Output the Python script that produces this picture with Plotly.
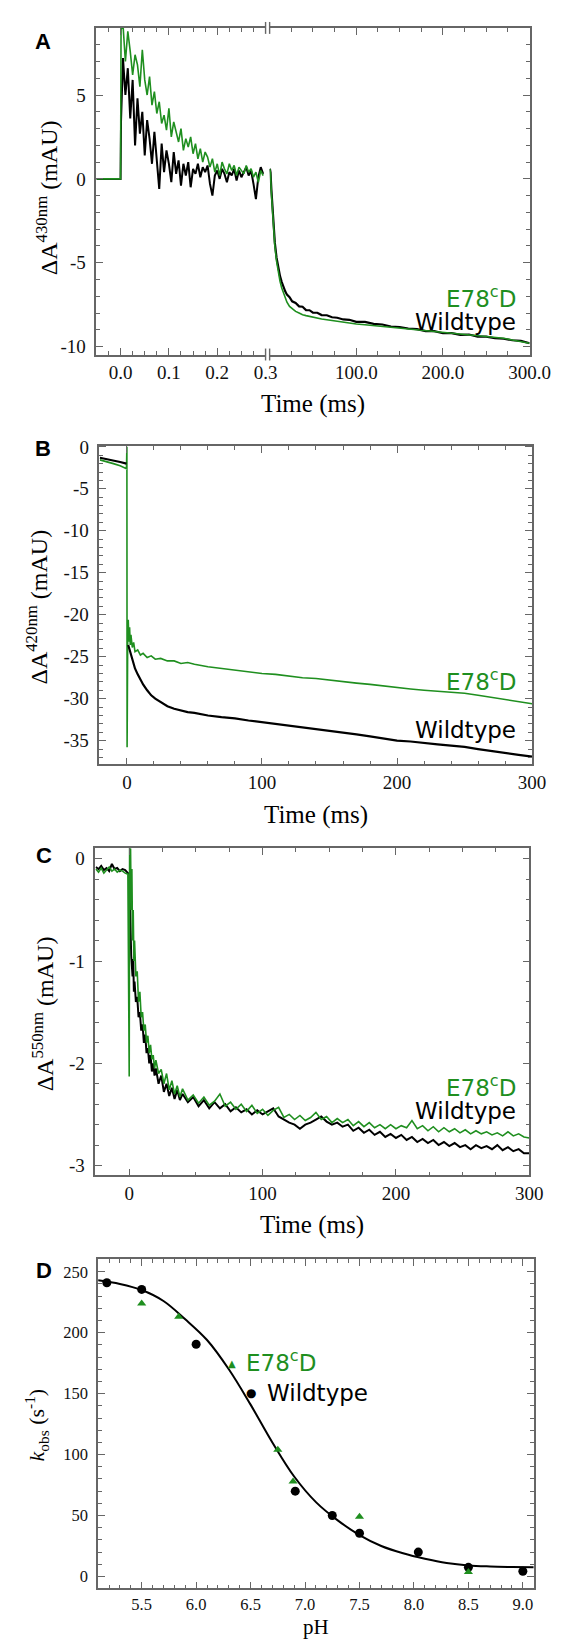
import plotly.graph_objects as go

W, H = 566, 1640
GREEN = "#1f8f1f"
BLACK = "#000000"
FRAME = "#666666"

# ---------------- Panel A (broken time axis) ----------------
A_t_fast = [-0.05, 0.0, 0.001, 0.005, 0.01, 0.015, 0.02, 0.025, 0.03, 0.035, 0.04, 0.045, 0.05,
            0.055, 0.06, 0.065, 0.07, 0.075, 0.08, 0.085, 0.09, 0.095, 0.1,
            0.105, 0.11, 0.115, 0.12, 0.125, 0.13, 0.135, 0.14, 0.145, 0.15,
            0.155, 0.16, 0.165, 0.17, 0.175, 0.18, 0.185, 0.19, 0.195, 0.2,
            0.205, 0.21, 0.215, 0.22, 0.225, 0.23, 0.235, 0.24, 0.245, 0.25,
            0.255, 0.26, 0.265, 0.27, 0.275, 0.28, 0.285, 0.29, 0.295]
A_e78_fast = [0, 0, 8.9, 9.2, 7.0, 8.8, 7.6, 6.2, 7.4, 6.8, 5.5, 7.7, 5.9,
              5.0, 6.1, 4.4, 5.2, 3.9, 4.6, 3.3, 3.8, 2.9, 4.2,
              2.5, 3.4, 2.7, 2.2, 3.0, 1.7, 2.4, 1.9, 2.5, 1.5,
              2.1, 1.2, 1.8, 1.0, 1.6, 1.3, 0.7, 1.2, 0.4, 0.9,
              0.2, 1.0, 0.6, 0.3, 0.9, 0.5, 0.8, 0.2, 0.7, 0.5,
              0.3, 0.8, 0.4, 0.6, 0.1, 0.4, -0.2, 0.5, 0.2]
A_wt_fast = [0, 0, 3.5, 7.2, 5.0, 6.6, 3.6, 5.9, 2.0, 4.8, 2.7, 4.0, 1.4,
             3.5, 2.4, 0.9, 2.8, 1.1, -0.6, 2.1, 0.4, 1.7, 0.9,
             -0.2, 1.6, 0.3, 1.1, -0.4, 0.9, 0.2, 1.0, -0.5, 0.6,
             0.3, 0.9, 0.1, 0.7, 0.4, 0.8, -0.3, -1.0, 0.2, 0.5,
             0.0, 0.6, 0.3, -0.2, 0.4, 0.2, 0.6, -0.1, 0.5, 0.1,
             0.4, 0.7, 0.2, 0.5, -0.3, -1.2, 0.1, 0.7, 0.3]
A_t_slow = [0.3, 1, 2, 3, 4, 5, 6, 8, 10, 12, 14, 16, 18, 20, 23, 26, 30, 34, 38, 42, 46, 50,
            55, 60, 66, 72, 78, 85, 92, 100, 110, 120, 130, 140, 150, 160, 170, 180, 190, 200,
            210, 220, 230, 240, 250, 260, 270, 280, 290, 300]
A_e78_slow = [0.6, 0.3, -0.8, -1.7, -2.6, -3.4, -4.0, -4.9, -5.6, -6.1, -6.5, -6.8, -7.1, -7.35,
              -7.6, -7.75, -7.9, -8.0, -8.1, -8.15, -8.2, -8.25,
              -8.3, -8.35, -8.4, -8.45, -8.5, -8.55, -8.6, -8.65,
              -8.7, -8.75, -8.8, -8.85, -8.9, -8.95, -9.0, -9.05, -9.1, -9.15,
              -9.2, -9.25, -9.3, -9.35, -9.4, -9.45, -9.5, -9.6, -9.7, -9.8]
A_wt_slow = [0.6, 0.4, -0.6, -1.5, -2.4, -3.2, -3.8, -4.7, -5.3, -5.8, -6.15, -6.45, -6.7, -6.9,
             -7.05, -7.3, -7.4, -7.6, -7.62, -7.82, -7.83, -7.98,
             -7.98, -8.12, -8.13, -8.25, -8.28, -8.38, -8.4, -8.52,
             -8.53, -8.64, -8.68, -8.8, -8.83, -8.92, -8.96, -9.07, -9.08, -9.2,
             -9.2, -9.3, -9.28, -9.4, -9.4, -9.5, -9.53, -9.62, -9.66, -9.8]
A_yticks = [-10, -5, 0, 5]
A_xticks_fast = [0.0, 0.1, 0.2, 0.3]
A_xticks_slow = [100, 200, 300]

# ---------------- Panel B ----------------
# None marks the trigger gap of the wildtype trace (hidden behind the flash artefact)
B_wt_t = [-20, -15, -10, -5, -0.3, None, 1, 2, 3, 4, 5, 6, 8, 10, 12, 15, 18, 21, 25, 30, 35, 40, 45, 50,
          60, 70, 80, 90, 100, 110, 120, 130, 140, 150, 160, 170, 180, 190, 200,
          210, 220, 230, 240, 250, 260, 270, 280, 290, 300]
B_wt = [-1.30, -1.45, -1.6, -1.8, -2.0, None, -23.6, -24.2, -24.9, -25.5, -25.9, -26.4, -27.1, -27.8, -28.3,
        -29.0, -29.6, -30.0, -30.4, -30.9, -31.2, -31.4, -31.6, -31.7,
        -32.0, -32.2, -32.35, -32.6, -32.8, -33.0, -33.2, -33.4, -33.6, -33.85, -34.05, -34.25, -34.5,
        -34.75, -35.0, -35.1, -35.3, -35.45, -35.6, -35.75, -36.0, -36.25, -36.5, -36.7, -36.9]
B_e78_t = [-20, -15, -10, -5, -0.3, 0, 0.15, 0.3, 0.6, 1, 1.5, 2, 2.5, 3, 4, 5, 6,
           8, 10, 12, 15, 18, 21, 25, 30, 35, 40, 45, 50,
           60, 70, 80, 90, 100, 110, 120, 130, 140, 150, 160, 170, 180, 190, 200,
           210, 220, 230, 240, 250, 260, 270, 280, 290, 300]
B_e78 = [-1.55, -1.75, -2.0, -2.25, -2.6, 0.0, -35.8, -19.5, -22.8, -20.6, -23.2, -21.5, -23.6, -22.4,
         -23.9, -23.3, -24.4,
         -24.2, -24.8, -24.6, -25.1, -24.9, -25.3, -25.2, -25.5, -25.5, -25.8, -25.7, -25.9,
         -26.2, -26.4, -26.6, -26.85, -27.0, -27.1, -27.3, -27.5, -27.6, -27.8, -28.0, -28.15, -28.3,
         -28.5, -28.7, -28.85, -29.0, -29.1, -29.2, -29.35, -29.6, -29.85, -30.1, -30.35, -30.6]
B_xticks = [0, 100, 200, 300]
B_yticks = [0, -5, -10, -15, -20, -25, -30, -35]

# ---------------- Panel C ----------------
C_t = [-25, -23, -21, -19, -17, -15, -13, -11, -9, -7, -5, -3, -1,
       0, 0.3, 0.6, 1, 1.5, 2, 2.5, 3, 3.5, 4,
       5, 6, 7, 8, 9, 10, 11, 12, 13, 14, 15, 16, 17, 18, 19, 20,
       22, 24, 26, 28, 30, 32, 34, 36, 38, 40,
       44, 48, 52, 56, 60, 64, 68, 72, 76, 80, 84, 88, 92, 96, 100, 104, 108, 112, 116, 120,
       124, 128, 132, 136, 140, 144, 148, 152, 156, 160, 164, 168, 172, 176, 180, 184, 188, 192,
       196, 200, 204, 208, 212, 216, 220, 224, 228, 232, 236, 240, 244, 248, 252, 256, 260, 264,
       268, 272, 276, 280, 284, 288, 292, 296, 300]
C_e78 = [-0.10, -0.13, -0.09, -0.14, -0.11, -0.08, -0.12, -0.10, -0.13, -0.11, -0.12, -0.14, -0.15,
         -2.13, 0.12, -0.2, 0.1, -0.5, -0.1, -0.8, -0.5, -1.0, -0.8,
         -1.15, -1.1, -1.4, -1.3, -1.55, -1.5, -1.68, -1.62, -1.8, -1.73, -1.9, -1.82, -1.96, -1.92, -2.05, -1.97,
         -2.1, -2.06, -2.2, -2.1, -2.26, -2.17, -2.3, -2.22, -2.33, -2.25,
         -2.36, -2.31, -2.39, -2.33, -2.41, -2.37, -2.3, -2.42, -2.38, -2.45,
         -2.4, -2.47, -2.41, -2.49, -2.45, -2.51, -2.46, -2.43, -2.53, -2.5,
         -2.55, -2.51, -2.56, -2.53, -2.48, -2.55, -2.52, -2.58, -2.54, -2.58,
         -2.55, -2.61, -2.57, -2.62, -2.58, -2.63, -2.6, -2.64, -2.6, -2.64,
         -2.61, -2.63, -2.56, -2.64, -2.61, -2.66, -2.62, -2.67, -2.63, -2.67,
         -2.64, -2.68, -2.65, -2.69, -2.66, -2.69, -2.67, -2.7, -2.68, -2.71,
         -2.67, -2.71, -2.69, -2.72, -2.73]
C_wt = [-0.08, -0.1, -0.07, -0.11, -0.09, -0.12, -0.05, -0.1, -0.09, -0.12, -0.1, -0.11, -0.14,
        -0.15, -0.3, -0.6, -0.8, -0.95, -1.05, -1.15, -0.98, -1.3, -1.2,
        -1.4, -1.35, -1.55, -1.5, -1.68, -1.62, -1.8, -1.72, -1.9, -1.85, -2.0, -1.92, -2.08, -2.0, -2.12, -2.05,
        -2.2, -2.12, -2.28, -2.2, -2.32, -2.24, -2.35, -2.26, -2.36, -2.3,
        -2.38, -2.33, -2.42, -2.36, -2.44, -2.38, -2.44, -2.4, -2.47, -2.43,
        -2.48, -2.45, -2.5, -2.46, -2.5, -2.47, -2.44, -2.52, -2.55, -2.58,
        -2.6, -2.64, -2.6, -2.58, -2.55, -2.52, -2.57, -2.6, -2.58, -2.62,
        -2.6, -2.66, -2.63, -2.68, -2.65, -2.7, -2.67, -2.72, -2.69, -2.73,
        -2.7, -2.75, -2.72, -2.77, -2.74, -2.78, -2.75, -2.8, -2.77, -2.81,
        -2.78, -2.82, -2.8, -2.84, -2.8, -2.83, -2.81, -2.84, -2.8, -2.85,
        -2.82, -2.86, -2.84, -2.88, -2.88]
C_xticks = [0, 100, 200, 300]
C_yticks = [0, -1, -2, -3]

# ---------------- Panel D ----------------
D_wt_ph = [5.18, 5.5, 6.0, 6.91, 7.25, 7.5, 8.04, 8.5, 9.0]
D_wt_k = [241, 235.5, 190.5, 70, 50, 35.5, 20, 7.5, 4.3]
D_e78_ph = [5.5, 5.84, 6.75, 6.89, 7.5, 8.5]
D_e78_k = [224, 213, 104, 78, 49, 3.7]
D_fit_ph = [5.1, 5.3, 5.5, 5.7, 5.9, 6.1, 6.3, 6.5, 6.7, 6.9, 7.1, 7.3, 7.5, 7.7, 7.9, 8.1, 8.3, 8.5, 8.7, 8.9, 9.1]
D_fit_k = [243, 240, 235, 226, 211, 194, 170, 141, 110, 82, 61, 46, 34, 25, 19, 14.5, 11, 9, 8.2, 7.8, 7.5]
D_xticks = [5.5, 6.0, 6.5, 7.0, 7.5, 8.0, 8.5, 9.0]
D_yticks = [0, 50, 100, 150, 200, 250]

assert len(A_t_fast) == len(A_e78_fast) == len(A_wt_fast)
assert len(A_t_slow) == len(A_e78_slow) == len(A_wt_slow)
assert len(B_wt_t) == len(B_wt) and len(B_e78_t) == len(B_e78)
assert len(C_t) == len(C_e78) == len(C_wt)

SERIF = "Liberation Serif"
SANS = "DejaVu Sans"


def fx(p):
    return p / W


def fy(p):
    return 1 - p / H


def lbl(v, fmt="{:g}"):
    return fmt.format(v)


fig = go.Figure()

fig.add_trace(go.Scatter(x=A_t_fast, y=A_wt_fast, xaxis="x", yaxis="y", mode="lines",
                         line=dict(color=BLACK, width=2)))
fig.add_trace(go.Scatter(x=A_t_fast, y=A_e78_fast, xaxis="x", yaxis="y", mode="lines",
                         line=dict(color=GREEN, width=1.6)))
fig.add_trace(go.Scatter(x=A_t_slow, y=A_wt_slow, xaxis="x2", yaxis="y2", mode="lines",
                         line=dict(color=BLACK, width=2.2)))
fig.add_trace(go.Scatter(x=A_t_slow, y=A_e78_slow, xaxis="x2", yaxis="y2", mode="lines",
                         line=dict(color=GREEN, width=1.6)))

fig.add_trace(go.Scatter(x=B_e78_t, y=B_e78, xaxis="x3", yaxis="y3", mode="lines",
                         line=dict(color=GREEN, width=1.6)))
fig.add_trace(go.Scatter(x=B_wt_t, y=B_wt, xaxis="x3", yaxis="y3", mode="lines", connectgaps=False,
                         line=dict(color=BLACK, width=2.2)))

fig.add_trace(go.Scatter(x=C_t, y=C_wt, xaxis="x4", yaxis="y4", mode="lines",
                         line=dict(color=BLACK, width=2)))
fig.add_trace(go.Scatter(x=C_t, y=C_e78, xaxis="x4", yaxis="y4", mode="lines",
                         line=dict(color=GREEN, width=1.6)))

fig.add_trace(go.Scatter(x=D_fit_ph, y=D_fit_k, xaxis="x5", yaxis="y5", mode="lines",
                         line=dict(color=BLACK, width=2, shape="spline", smoothing=1.0)))
fig.add_trace(go.Scatter(x=D_wt_ph, y=D_wt_k, xaxis="x5", yaxis="y5", mode="markers",
                         marker=dict(color=BLACK, size=9, symbol="circle")))
fig.add_trace(go.Scatter(x=D_e78_ph, y=D_e78_k, xaxis="x5", yaxis="y5", mode="markers",
                         marker=dict(color=GREEN, size=8, symbol="triangle-up")))

TICKFONT = dict(family=SERIF, size=19, color="#111111")
base = dict(showline=True, linecolor=FRAME, linewidth=1.6, ticks="inside", ticklen=7,
            tickwidth=1.2, tickcolor=FRAME, showgrid=False, zeroline=False,
            tickfont=TICKFONT, fixedrange=True)


def minor(dt, t0=0):
    return dict(ticks="inside", ticklen=4, tickwidth=1, tickcolor=FRAME, showgrid=False,
                tickmode="linear", dtick=dt, tick0=t0)


def dom_x(a, b):
    return [fx(a), fx(b)]


def dom_y(top, bot):
    return [fy(bot), fy(top)]


A_top, A_bot = 11, 340
B_top, B_bot = 432, 753
C_top, C_bot = 837, 1167
D_top, D_bot = 1251, 1583

layout = dict(
    width=W, height=H, margin=dict(l=0, r=0, t=0, b=0),
    font=dict(family=SERIF, size=19, color="#111111"),
    paper_bgcolor="white", plot_bgcolor="white", showlegend=False,
    xaxis=dict(base, domain=dom_x(91.8, 267.5), range=[-0.05, 0.3], anchor="y", mirror="allticks",
               tickmode="array", tickvals=A_xticks_fast, ticktext=[f"{v:.1f}" for v in A_xticks_fast],
               minor=minor(0.025)),
    yaxis=dict(base, domain=dom_y(A_top, A_bot), range=[-10.47, 9.0], anchor="x", mirror=False,
               tickmode="array", tickvals=A_yticks, ticktext=[lbl(v) for v in A_yticks],
               ticklabelstandoff=5, minor=minor(1)),
    xaxis2=dict(base, domain=dom_x(271.7, 541.7), range=[0, 300], anchor="y2", mirror="allticks",
                tickmode="array", tickvals=A_xticks_slow, ticktext=[f"{v:.1f}" for v in A_xticks_slow],
                minor=minor(25)),
    yaxis2=dict(base, domain=dom_y(A_top, A_bot), range=[-10.47, 9.0], anchor="x2", side="right",
                mirror=False, showticklabels=False, tickmode="array", tickvals=A_yticks,
                minor=minor(1)),
    xaxis3=dict(base, domain=dom_x(95, 544.3), range=[-20.3, 300], anchor="y3", mirror="allticks",
                tickmode="array", tickvals=B_xticks, ticktext=[lbl(v) for v in B_xticks],
                minor=minor(20)),
    yaxis3=dict(base, domain=dom_y(B_top, B_bot), range=[-37.84, 0.12], anchor="x3", mirror="allticks",
                tickmode="array", tickvals=B_yticks, ticktext=[lbl(v) for v in B_yticks],
                ticklabelstandoff=5, minor=minor(1)),
    xaxis4=dict(base, domain=dom_x(90.7, 541.4), range=[-25.4, 300], anchor="y4", mirror="allticks",
                tickmode="array", tickvals=C_xticks, ticktext=[lbl(v) for v in C_xticks],
                minor=minor(25)),
    yaxis4=dict(base, domain=dom_y(C_top, C_bot), range=[-3.097, 0.107], anchor="x4", mirror="allticks",
                tickmode="array", tickvals=C_yticks, ticktext=[lbl(v) for v in C_yticks],
                ticklabelstandoff=5, minor=minor(0.2)),
    xaxis5=dict(base, domain=dom_x(93.6, 546), range=[5.1, 9.1], anchor="y5", mirror="allticks",
                tickmode="array", tickvals=D_xticks, ticktext=[f"{v:.1f}" for v in D_xticks],
                tickfont=dict(family=SERIF, size=16.5, color="#111111"), minor=minor(0.1)),
    yaxis5=dict(base, domain=dom_y(D_top, D_bot), range=[-9.8, 260.6], anchor="x5", mirror="allticks",
                tickmode="array", tickvals=D_yticks, ticktext=[lbl(v) for v in D_yticks],
                tickfont=dict(family=SERIF, size=16.5, color="#111111"),
                ticklabelstandoff=5, minor=minor(10)),
)
fig.update_layout(**layout)

shapes = []
for xp in (267.5, 271.7):
    for (y0, y1) in ((A_bot - 6, A_bot + 6), (A_top - 6, A_top + 6)):
        shapes.append(dict(type="line", xref="paper", yref="paper", x0=fx(xp), x1=fx(xp),
                           y0=fy(y0), y1=fy(y1), line=dict(color=FRAME, width=1.4)))
fig.update_layout(shapes=shapes)

ann = []


def text(xp, yp, s, size, family, color="#000000", xanchor="center", yanchor="middle", angle=0):
    ann.append(dict(x=fx(xp), y=fy(yp), xref="paper", yref="paper", text=s, showarrow=False,
                    xanchor=xanchor, yanchor=yanchor, textangle=angle,
                    font=dict(family=family, size=size, color=color)))


for L, xp, yp in (("A", 36, 25), ("B", 36, 435), ("C", 37, 845), ("D", 37, 1263)):
    text(xp, yp, f"<b>{L}</b>", 22, "Liberation Sans")

text(316.7, 390, "Time (ms)", 25, SERIF)
text(319.5, 804, "Time (ms)", 25, SERIF)
text(316, 1217, "Time (ms)", 25, SERIF)
text(319.8, 1622, "pH", 21, SERIF)

text(40, 182, "\u0394A<sup>430nm</sup> (mAU)", 24, SERIF, angle=-90)
text(30, 594, "\u0394A<sup>420nm</sup> (mAU)", 24, SERIF, angle=-90)
text(36, 1004, "\u0394A<sup>550nm</sup> (mAU)", 24, SERIF, angle=-90)
text(30, 1418, "<i>k</i><sub>obs</sub> (s<sup>-1</sup>)", 22, SERIF, angle=-90)

for (y1, y2) in ((282, 307), (668, 718), (1077, 1102)):
    text(530, y1, "E78<sup>c</sup>D", 23, SANS, color=GREEN, xanchor="right")
    text(530, y2, "Wildtype", 23, SANS, color=BLACK, xanchor="right")

text(233, 1356, "\u25B2", 10, SANS, color=GREEN)
text(245, 1354, "E78<sup>c</sup>D", 23, SANS, color=GREEN, xanchor="left")
text(252, 1386, "\u25CF", 12, SANS, color=BLACK)
text(266.7, 1386, "Wildtype", 23, SANS, color=BLACK, xanchor="left")

fig.update_layout(annotations=ann)
fig.write_html("out.html")
